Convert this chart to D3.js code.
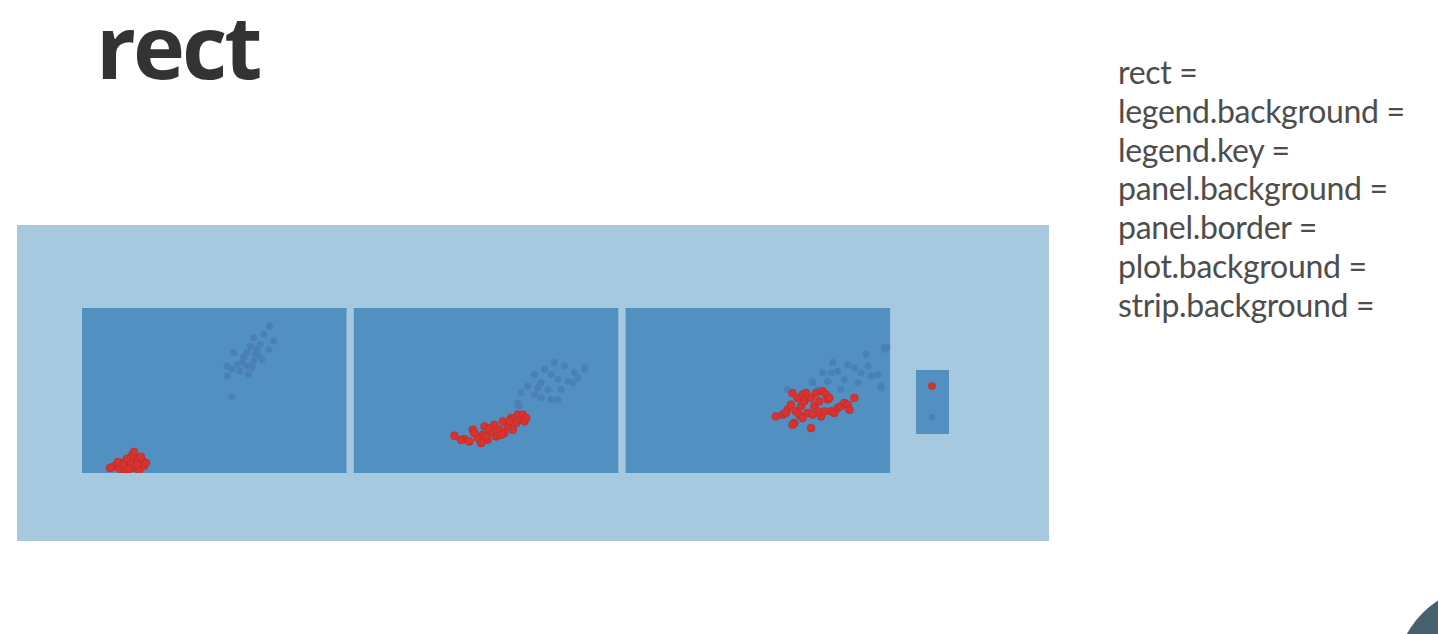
<!DOCTYPE html>
<html>
<head>
<meta charset="utf-8">
<script src="https://cdn.jsdelivr.net/npm/d3@7"></script>
<style>
  html, body { margin: 0; padding: 0; background: #ffffff; overflow: hidden; }
</style>
</head>
<body>
<svg id="chart" width="1438" height="634"></svg>
<script>
// facet points, values on a 0-100 scale in each panel
const panel1Red = [[11.7,3.1],[12.9,4.3],[14.0,3.7],[15.2,5.5],[15.9,3.1],[16.7,6.1],[17.4,4.3],[18.2,7.4],[18.9,10.4],[19.7,12.3],[19.3,8.6],[20.5,6.1],[21.2,8.0],[22.0,4.9],[22.7,6.7],[23.5,3.7],[24.2,5.5],[14.4,1.8],[16.3,1.2],[18.2,2.5],[20.1,2.5],[21.6,1.2],[10.6,2.5],[13.6,6.1],[17.0,8.0],[22.3,9.2],[18.6,4.9],[15.5,4.3],[20.8,4.3],[17.8,1.8]];
const panel1Blue = [[70.9,89.1],[68.7,84.0],[64.9,82.0],[72.5,79.9],[63.6,76.9],[67.4,77.9],[66.2,74.8],[70.6,74.8],[57.3,72.8],[62.4,72.8],[61.1,69.8],[68.1,68.7],[64.9,67.7],[54.8,64.6],[58.6,65.6],[62.4,64.6],[59.8,61.5],[63.0,59.5],[54.8,58.5],[56.7,45.8],[56.7,62.6],[65.5,71.8],[60.5,66.7],[66.8,70.7],[64.3,63.6]];
const panel2Red = [[38.0,22.1],[41.8,20.1],[43.7,18.6],[45.0,25.8],[46.9,20.7],[48.8,22.7],[49.4,27.8],[50.6,19.6],[51.9,24.7],[53.1,28.8],[53.8,21.7],[55.0,25.8],[56.3,30.9],[56.9,23.7],[58.2,27.8],[59.5,32.9],[60.1,25.8],[61.4,29.9],[62.0,35.0],[63.3,31.9],[64.5,30.9],[63.9,35.0],[65.2,32.9],[48.1,17.6],[45.6,23.7],[55.7,22.7],[58.8,30.9],[51.2,26.8],[40.5,19.6],[50.0,21.7]];
const panel2Blue = [[75.9,66.7],[79.7,64.6],[72.1,62.6],[68.3,59.5],[74.6,59.5],[83.4,60.6],[87.2,62.6],[77.2,56.4],[70.8,54.4],[80.9,55.4],[84.7,57.5],[65.8,52.3],[69.6,51.3],[73.4,50.3],[78.4,50.3],[63.3,48.3],[68.3,47.2],[77.2,44.2],[74.6,44.2],[70.8,45.2],[62.0,42.1],[82.8,54.4],[87.2,63.6],[62.6,40.1]];
const panel3Red = [[56.8,33.9],[59.4,35.0],[61.2,38.0],[62.5,41.1],[63.1,48.2],[63.8,29.9],[64.4,37.0],[65.0,45.2],[66.3,40.1],[66.9,47.2],[67.5,43.1],[68.8,36.0],[70.1,26.8],[70.1,45.2],[71.3,40.1],[72.0,48.2],[73.2,43.1],[73.9,33.9],[74.5,49.3],[75.8,47.2],[76.4,44.2],[75.1,37.0],[77.7,37.0],[78.9,36.0],[80.2,39.1],[81.4,40.1],[82.7,42.1],[84.0,41.1],[84.6,38.0],[86.5,45.2],[65.6,35.0],[68.2,48.2],[72.6,37.0],[77.0,45.2],[63.1,28.8],[60.6,36.0],[70.7,35.0],[66.9,32.9]];
const panel3Blue = [[70.7,54.4],[74.5,60.5],[78.3,66.7],[80.2,61.5],[84.0,65.6],[86.5,63.6],[89.0,60.5],[90.9,71.8],[92.8,58.5],[95.3,59.5],[96.6,52.3],[97.8,74.8],[82.7,56.4],[76.4,55.4],[72.6,50.3],[87.8,54.4],[81.4,50.3],[91.6,64.6],[99.1,75.9],[77.7,60.5],[97.8,75.9],[96.6,51.3],[61.2,50.3],[70.7,55.4]];

const titleText = "rect";
const themeLines = ["rect =", "legend.background =", "legend.key =", "panel.background =", "panel.border =", "plot.background =", "strip.background ="];

const panels = [
    { red: panel1Red, blue: panel1Blue },
    { red: panel2Red, blue: panel2Blue },
    { red: panel3Red, blue: panel3Blue }
];

const colours = {
    plot: "#a7c9df",
    panel: "#5190c1",
    blue: "#4a80b6",
    red: "#d8332f",
    redStroke: "#b82a2a",
    text: "#333333",
    note: "#4d4d4d"
};

const svg = d3.select("#chart");

// title
svg.append("text")
    .attr("x", 96)
    .attr("y", 79)
    .style("font-family", "'Open Sans', sans-serif")
    .style("font-weight", "bold")
    .style("font-size", "88px")
    .style("letter-spacing", "-3px")
    .style("fill", colours.text)
    .text(titleText);

// theme element list on the right
svg.append("g")
    .selectAll("text")
    .data(themeLines)
    .join("text")
    .attr("x", 1118)
    .attr("y", (d, i) => 84 + i * 38.8)
    .style("font-family", "Lato, sans-serif")
    .style("font-size", "32px")
    .style("letter-spacing", "-0.3px")
    .style("fill", colours.note)
    .text(d => d);

// plot background
const plot = { left: 17, top: 225, width: 1032, height: 316 };
svg.append("rect")
    .attr("x", plot.left)
    .attr("y", plot.top)
    .attr("width", plot.width)
    .attr("height", plot.height)
    .style("fill", colours.plot);

const panelW = 264.5;
const panelH = 164;
const panelGap = 7.3;
const panelLeft = 82;
const panelTop = 308;

const xScale = d3.scaleLinear().domain([0, 100]).range([0, panelW]);
const yScale = d3.scaleLinear().domain([0, 100]).range([panelH, 0]);

svg.append("defs")
    .append("clipPath")
    .attr("id", "panel-clip")
    .append("rect")
    .attr("width", panelW)
    .attr("height", panelH + 1);

panels.forEach((p, i) => {
    const g = svg.append("g")
        .attr("transform", "translate(" + (panelLeft + i * (panelW + panelGap)) + "," + panelTop + ")");

    g.append("rect")
        .attr("width", panelW)
        .attr("height", panelH + 1)
        .style("fill", colours.panel);

    const pts = g.append("g").attr("clip-path", "url(#panel-clip)");

    pts.selectAll("circle.blue")
        .data(p.blue)
        .join("circle")
        .attr("class", "blue")
        .attr("cx", d => xScale(d[0]))
        .attr("cy", d => yScale(d[1]))
        .attr("r", 3.5)
        .style("fill", colours.blue);

    pts.selectAll("circle.red")
        .data(p.red)
        .join("circle")
        .attr("class", "red")
        .attr("cx", d => xScale(d[0]))
        .attr("cy", d => yScale(d[1]))
        .attr("r", 3.9)
        .style("fill", colours.red)
        .style("stroke", colours.redStroke)
        .style("stroke-width", 0.6);
});

// legend keys
const legend = svg.append("g").attr("transform", "translate(916,370)");
legend.append("rect")
    .attr("width", 33)
    .attr("height", 64)
    .style("fill", colours.panel);
legend.append("circle")
    .attr("cx", 16)
    .attr("cy", 16)
    .attr("r", 3.6)
    .style("fill", colours.red)
    .style("stroke", colours.redStroke)
    .style("stroke-width", 0.6);
legend.append("circle")
    .attr("cx", 16)
    .attr("cy", 47)
    .attr("r", 3.2)
    .style("fill", colours.blue);

// corner shape bottom right
svg.append("circle")
    .attr("cx", 1490)
    .attr("cy", 680)
    .attr("r", 95)
    .style("fill", "#46616d");
</script>
</body>
</html>
